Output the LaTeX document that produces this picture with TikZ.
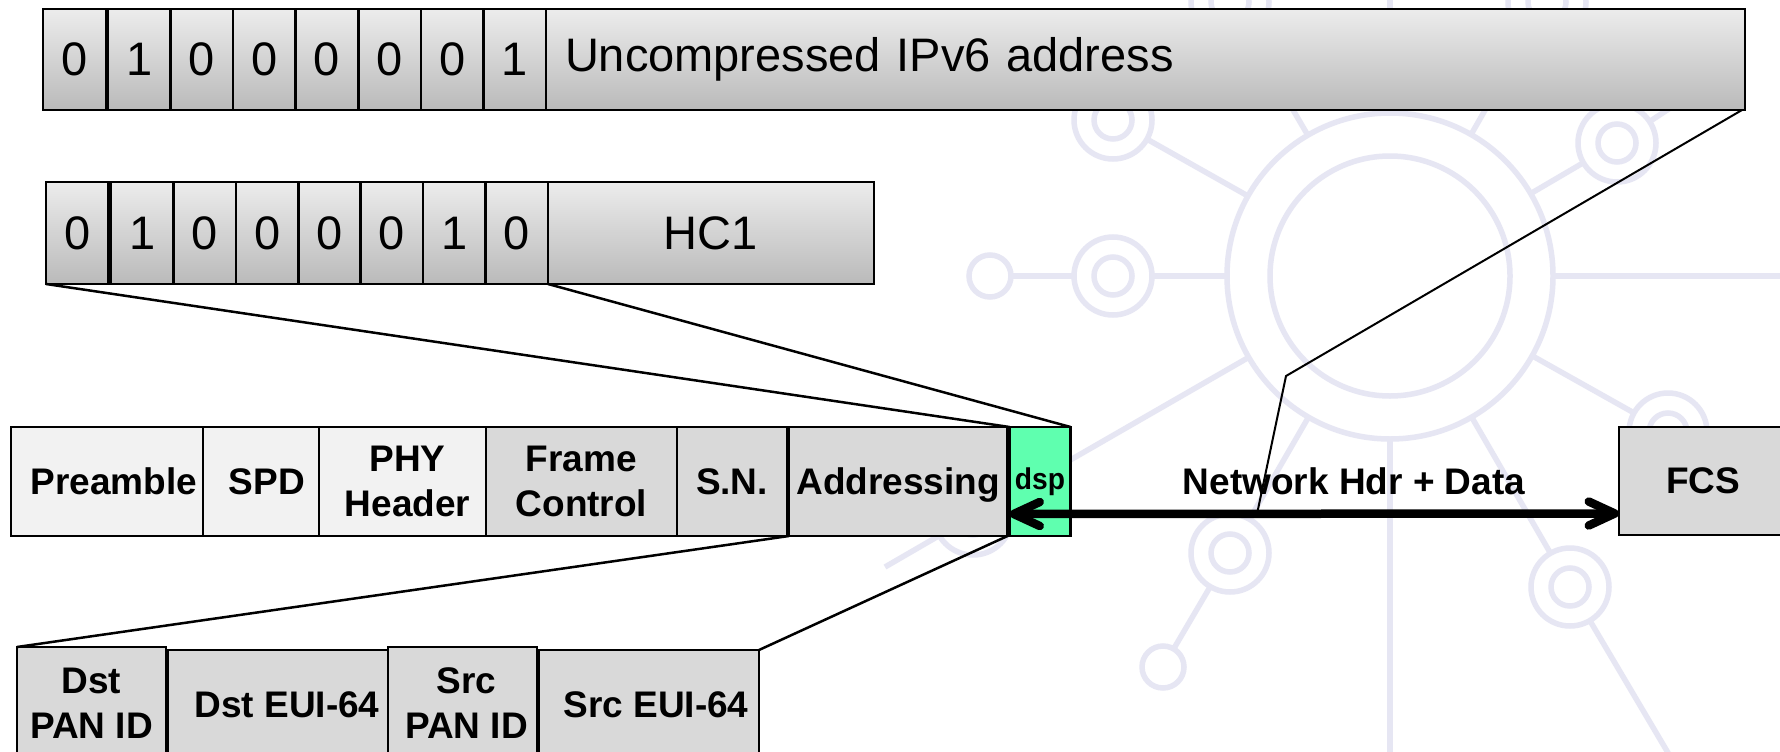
\documentclass[tikz,border=0pt]{standalone}
\usepackage{fontspec}
\setmainfont{Liberation Sans}
\usetikzlibrary{arrows.meta,calc}
\definecolor{lightbox}{RGB}{242,242,242}
\definecolor{midbox}{RGB}{217,217,217}
\definecolor{dspgreen}{RGB}{95,255,175}
\definecolor{gradtop}{RGB}{236,236,236}
\definecolor{gradbot}{RGB}{186,186,186}
\definecolor{wmark}{RGB}{230,230,243}
\begin{document}
\begin{tikzpicture}[x=1pt,y=-1pt,
  bitbox/.style={draw=black, line width=2.5pt, top color=gradtop, bottom color=gradbot,
    inner sep=0pt, outer sep=0pt, anchor=north west, font=\fontsize{47}{56}\selectfont},
  fieldbox/.style={draw=black, line width=2.5pt, inner sep=0pt, outer sep=0pt,
    anchor=north west, align=center, font=\fontsize{37}{45}\selectfont\bfseries},
  lightfield/.style={fieldbox, fill=lightbox},
  midfield/.style={fieldbox, fill=midbox},
  zoomline/.style={draw=black, line width=2.5pt},
  thinline/.style={draw=black, line width=2pt},
  netarrow/.style={draw=black, line width=8.5pt,
    {Straight Barb[length=26pt,width=24pt,round]}-{Straight Barb[length=26pt,width=24pt,round]}},
  wm/.style={draw=wmark, line width=5.5pt}
]
\useasboundingbox (0,0) rectangle (1780,752);
\clip (0,0) rectangle (1780,752);
\fill[white] (0,0) rectangle (1780,752);

% ---------- watermark ----------
\coordinate (hub) at (1390,276);
\coordinate (N1) at (1113,276);
\coordinate (S1) at (990,276);
\coordinate (N2) at (1113,120);
\coordinate (N3) at (973,516);
\coordinate (E3) at (885,567);
\coordinate (N4) at (1230,553);
\coordinate (S4) at (1163,667);
\coordinate (N6) at (1570,587);
\coordinate (E6) at (1690,790);
\coordinate (N7) at (1668,432);
\coordinate (N9) at (1617,143);
\coordinate (E9) at (1690,95);
\coordinate (N10) at (1547,2);
\coordinate (N12) at (1230,2);
\coordinate (Eb) at (1390,800);
\coordinate (Er) at (1800,276);
\coordinate (Et) at (1390,-20);
\draw[wm] (hub) circle[radius=120pt];
\draw[wm] (hub) circle[radius=163pt];
\foreach \n in {N1,N2,N3,N4,N6,N7,N9,N10,N12}{
  \draw[wm, shorten <=163pt, shorten >=39pt] (hub) -- (\n);
  \draw[wm] (\n) circle[radius=39pt];
  \draw[wm] (\n) circle[radius=19pt];
}
\draw[wm, shorten <=163pt] (hub) -- (Eb);
\draw[wm, shorten <=163pt] (hub) -- (Er);
\draw[wm, shorten <=163pt] (hub) -- (Et);
\draw[wm] (S1) circle[radius=21pt];
\draw[wm] (S4) circle[radius=21pt];
\draw[wm, shorten <=39pt, shorten >=21pt] (N1) -- (S1);
\draw[wm, shorten <=39pt, shorten >=21pt] (N4) -- (S4);
\draw[wm, shorten <=39pt] (N3) -- (E3);
\draw[wm, shorten <=39pt] (N6) -- (E6);
\draw[wm, shorten <=39pt] (N9) -- (E9);

% ---------- uncompressed address row ----------
\node[bitbox, minimum width=63pt, minimum height=101pt] (t0) at (43,9) {0};
\foreach \b [count=\i] in {1,0,0,0,0,0,1}
  \node[bitbox, minimum width=62.57pt, minimum height=101pt] (t\i) at ({108+62.57*(\i-1)},9) {\b};
\node[bitbox, minimum width=1199pt, minimum height=101pt, text width=1161pt,
      inner xsep=19pt, align=left] (ipv6) at (546,9) {Uncompressed IPv6 address};

% ---------- HC1 row ----------
\node[bitbox, minimum width=62.3pt, minimum height=102pt] (h0) at (46,182) {0};
\foreach \b [count=\i] in {1,0,0,0,0,1,0}
  \node[bitbox, minimum width=62.43pt, minimum height=102pt] (h\i) at ({111+62.43*(\i-1)},182) {\b};
\node[bitbox, minimum width=326pt, minimum height=102pt] (hc1) at (548,182) {HC1};

% ---------- frame row ----------
\node[lightfield, minimum width=192pt, minimum height=109pt] (pre) at (11,427) {\hspace*{14pt}Preamble};
\node[lightfield, minimum width=116pt, minimum height=109pt] (spd) at (203,427) {\hspace*{12pt}SPD};
\node[lightfield, minimum width=167pt, minimum height=109pt] (phy) at (319,427) {\hspace*{10pt}PHY\\\hspace*{10pt}Header};
\node[midfield, minimum width=191pt, minimum height=109pt] (fc) at (486,427) {Frame\\Control};
\node[midfield, minimum width=110pt, minimum height=109pt] (sn) at (677,427) {S.N.};
\node[midfield, minimum width=218.5pt, minimum height=109pt, text depth=0pt] (addr) at (789,427) {Addressing};
\node[fieldbox, fill=dspgreen, minimum width=61pt, minimum height=109pt,
      font=\fontsize{30}{36}\selectfont\bfseries] (dsp) at (1009.5,427)
      {\scalebox{0.94}[1]{dsp}};
\node[midfield, minimum width=168pt, minimum height=108pt] (fcs) at (1619,427) {FCS};

\node[font=\fontsize{37}{45}\selectfont\bfseries] (net) at (1354,481) {Network Hdr + Data};

% ---------- addressing detail row ----------
\node[midfield, minimum width=149pt, minimum height=113pt] (dpan) at (17,647) {Dst\\PAN ID};
\node[midfield, minimum width=220pt, minimum height=110pt] (deui) at (168,650) {\hspace*{18pt}Dst EUI-64};
\node[midfield, minimum width=149pt, minimum height=113pt] (span) at (388,647) {\hspace*{8pt}Src\\\hspace*{8pt}PAN ID};
\node[midfield, minimum width=220pt, minimum height=110pt] (seui) at (539,650) {\hspace*{14pt}Src EUI-64};

% ---------- connectors ----------
\draw[zoomline] (h0.south west) -- (dsp.north west);
\draw[zoomline] (hc1.south west) -- (dsp.north east);
\draw[zoomline] (addr.south west) -- (dpan.north west);
\draw[zoomline] (addr.south east) -- (seui.north east);
\draw[netarrow] ([yshift=-32.5pt]dsp.west) -- ([yshift=-32.5pt]fcs.west);
\coordinate (kink) at (1286,376);
\coordinate (tap) at (1257,514);
\draw[thinline] ([xshift=-3pt]ipv6.south east) -- (kink) -- (tap);
\end{tikzpicture}
\end{document}
